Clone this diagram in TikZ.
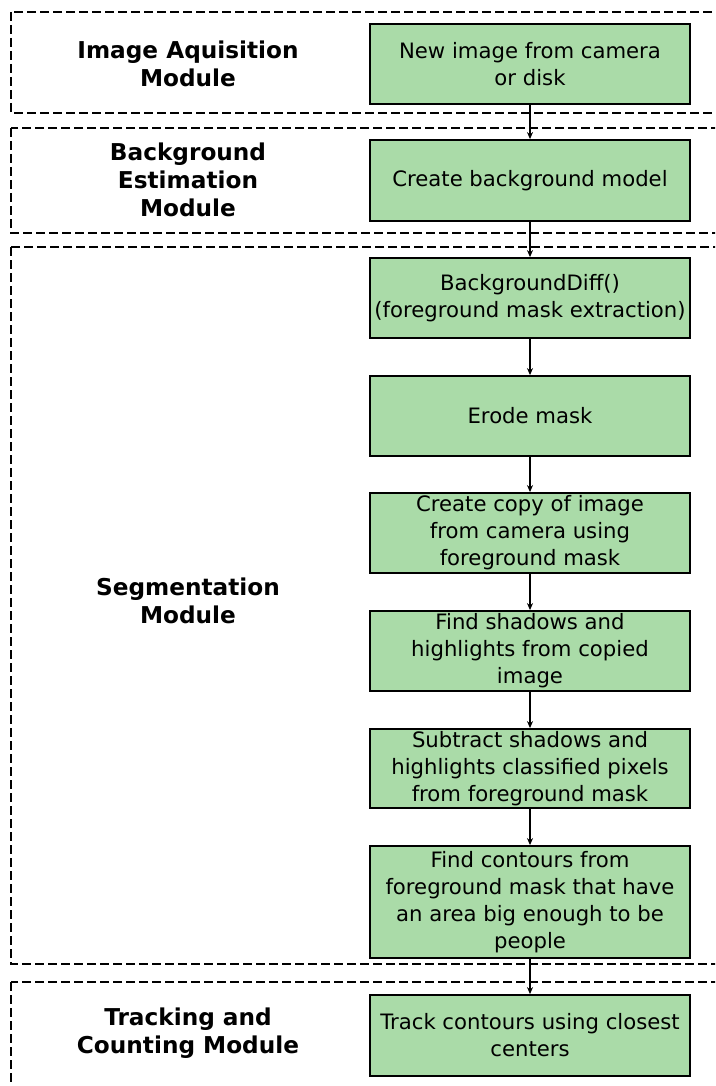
\documentclass[tikz,border=0pt]{standalone}
\usepackage{fontspec}
\setmainfont{DejaVu Sans}
\usetikzlibrary{arrows.meta}
\definecolor{stepgreen}{RGB}{170,219,168}
\tikzset{
  stepbox/.style={draw=black, line width=1.8pt, fill=stepgreen, minimum width=320pt,
    inner sep=0pt, align=center, font=\fontsize{21.2}{27}\selectfont},
  modframe/.style={draw=black, line width=1.8pt, dash pattern=on 9pt off 4pt},
  modlabel/.style={align=center, font=\fontsize{23.2}{28}\selectfont\bfseries},
  flow/.style={line width=1.5pt, -{Stealth[length=7pt,width=6pt]}}
}
\begin{document}
\begin{tikzpicture}[x=1pt,y=-1pt]
  \useasboundingbox (0,0) rectangle (715,1086);
  \fill[white] (0,0) rectangle (715,1086);
  \clip (0,0) rectangle (715,1086);

  % module frames
  \draw[modframe] (11,12) rectangle (735,113);
  \draw[modframe] (11,128) rectangle (735,233);
  \draw[modframe] (11,247) rectangle (735,964);
  \draw[modframe] (11,982) rectangle (735,1100);

  % module titles
  \node[modlabel] (m1) at (188,64) {Image Aquisition\\Module};
  \node[modlabel] (m2) at (188,180) {Background\\Estimation\\Module};
  \node[modlabel] (m3) at (188,601) {Segmentation\\Module};
  \node[modlabel] (m4) at (188,1033) {Tracking and\\Counting Module};

  % processing steps
  \node[stepbox, minimum height=80pt] (b1) at (530,64) {New image from camera\\or disk};
  \node[stepbox, minimum height=81pt] (b2) at (530,180.5) {Create background model};
  \node[stepbox, minimum height=80pt] (b3) at (530,298) {BackgroundDiff()\\(foreground mask extraction)};
  \node[stepbox, minimum height=80pt] (b4) at (530,416) {Erode mask};
  \node[stepbox, minimum height=80pt] (b5) at (530,533) {Create copy of image\\from camera using\\foreground mask};
  \node[stepbox, minimum height=80pt] (b6) at (530,651) {Find shadows and\\highlights from copied\\image};
  \node[stepbox, minimum height=79pt] (b7) at (530,768.5) {Subtract shadows and\\highlights classified pixels\\from foreground mask};
  \node[stepbox, minimum height=112pt] (b8) at (530,902) {Find contours from\\foreground mask that have\\an area big enough to be\\people};
  \node[stepbox, minimum height=81pt] (b9) at (530,1035.5) {Track contours using closest\\centers};

  % flow between steps
  \foreach \a/\b in {b1/b2,b2/b3,b3/b4,b4/b5,b5/b6,b6/b7,b7/b8,b8/b9}
    \draw[flow] (\a.south) -- (\b.north);
\end{tikzpicture}
\end{document}
